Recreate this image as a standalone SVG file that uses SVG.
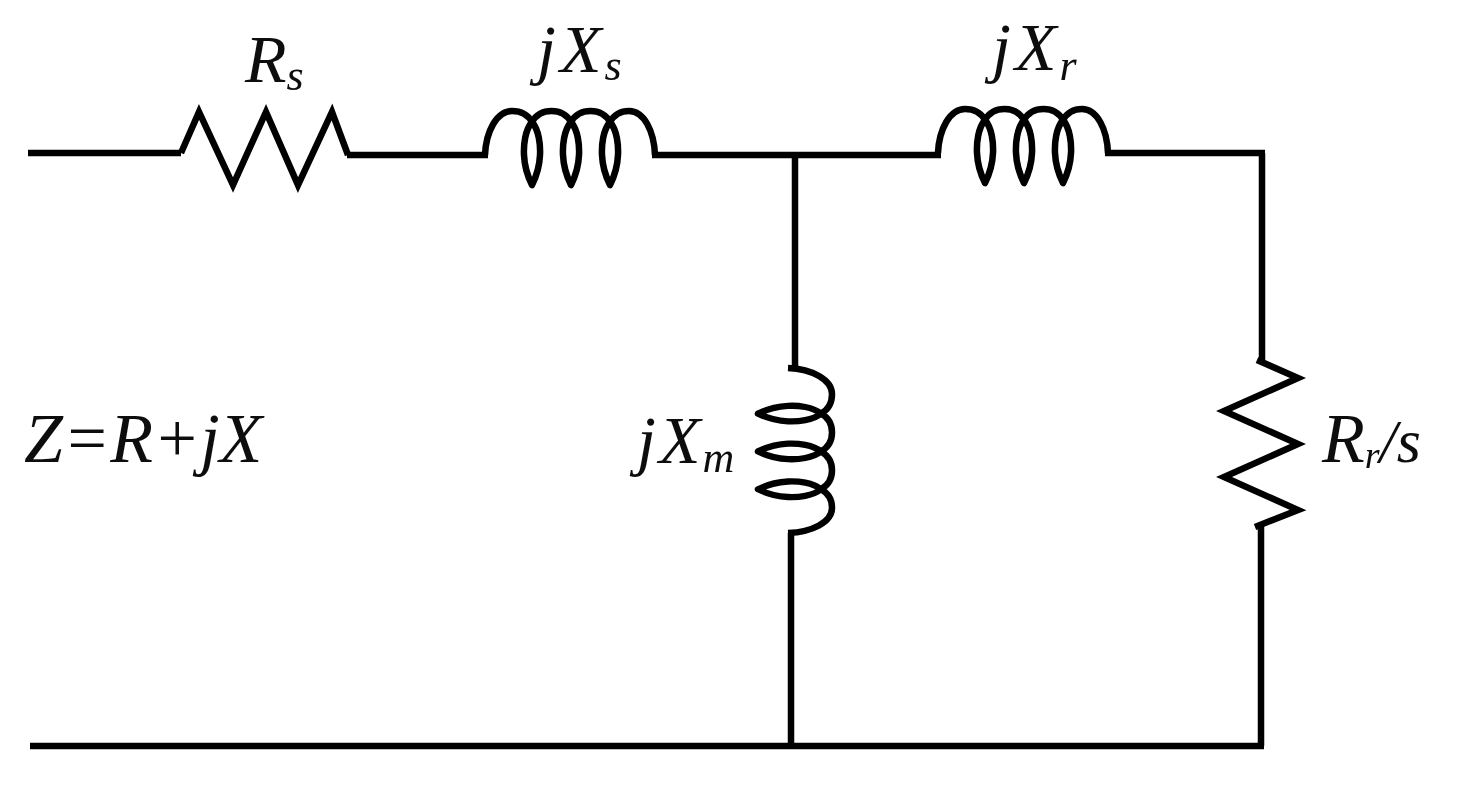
<svg xmlns="http://www.w3.org/2000/svg" width="1457" height="786" viewBox="0 0 1457 786">
<style>
.w{fill:none;stroke:#000;stroke-width:6.5;stroke-linejoin:round}
.t{font-family:"Liberation Serif","Times New Roman",serif;font-style:italic;font-size:68px;fill:#111}
.b{font-size:44px}
.k{stroke-linejoin:miter}
</style>
<defs>
<filter id="soft" x="0" y="0" width="1457" height="786" filterUnits="userSpaceOnUse"><feGaussianBlur stdDeviation="0.7"/></filter>
<path id="coil" class="w" d="M0 0C1 -24 12 -44 27 -44C36 -44 43 -40 47 -33C54 -25 55.500 -10 55 0C54.500 12 51 22 47 30C43 22 39.500 12 39 0C38.500 -10 40 -25 47 -33C51 -40 58 -44 66.500 -44C75 -44 82 -40 86 -33C93 -25 94.500 -10 94 0C93.500 12 90 22 86 30C82 22 78.500 12 78 0C77.500 -10 79 -25 86 -33C90 -40 97 -44 105.500 -44C114 -44 121 -40 125 -33C132 -25 133.500 -10 133 0C132.500 12 129 22 125 30C121 22 117.500 12 117 0C116.500 -10 118 -25 125 -33C129 -40 135 -44 144 -44C159 -44 169 -24 170 0"/>
</defs>
<rect width="1457" height="786" fill="#fff"/>
<g filter="url(#soft)">
<g id="connectors">
<path class="w" d="M28 153H181"/>
<path class="w" d="M347 155H488"/>
<path class="w" d="M652 155H941"/>
<path class="w" d="M1105 153H1265"/>
<path class="w" d="M795 155V368"/>
<path class="w" d="M791 533V746"/>
<path class="w" d="M1262 153V362"/>
<path class="w" d="M1261 525V746"/>
<path class="w" d="M30 746H1264"/>
</g>
<g id="Rs"><path class="w k" d="M181 153L199 112L233 185L266 112L298 185L332 112L348 155"/><text class="t" x="245" y="82">R<tspan class="b" dy="8">s</tspan></text></g>
<g id="jXs"><use href="#coil" transform="translate(485 155)"/><text class="t" x="537" y="72">j<tspan dx="4">X</tspan><tspan class="b" dx="3" dy="8">s</tspan></text></g>
<g id="jXr"><use href="#coil" transform="translate(938 153)"/><text class="t" x="992" y="70">j<tspan dx="4">X</tspan><tspan class="b" dx="3" dy="10">r</tspan></text></g>
<g id="jXm"><use href="#coil" transform="translate(788 368) rotate(90) scale(.97 1)"/><text class="t" x="637" y="463">j<tspan dx="3">X</tspan><tspan class="b" dx="2" dy="9">m</tspan></text></g>
<g id="RrS"><path class="w k" d="M1257 360L1298 378L1224 411L1298 444L1224 477L1298 510L1255 527"/><text class="t" x="1322" y="462" style="font-size:70px">R<tspan style="font-size:38px" dy="6">r</tspan><tspan style="font-size:62px" dy="-6">/s</tspan></text></g>
<g id="Z"><text class="t" x="24" y="462" style="font-size:70px">Z=R+jX</text></g>
</g>
</svg>
